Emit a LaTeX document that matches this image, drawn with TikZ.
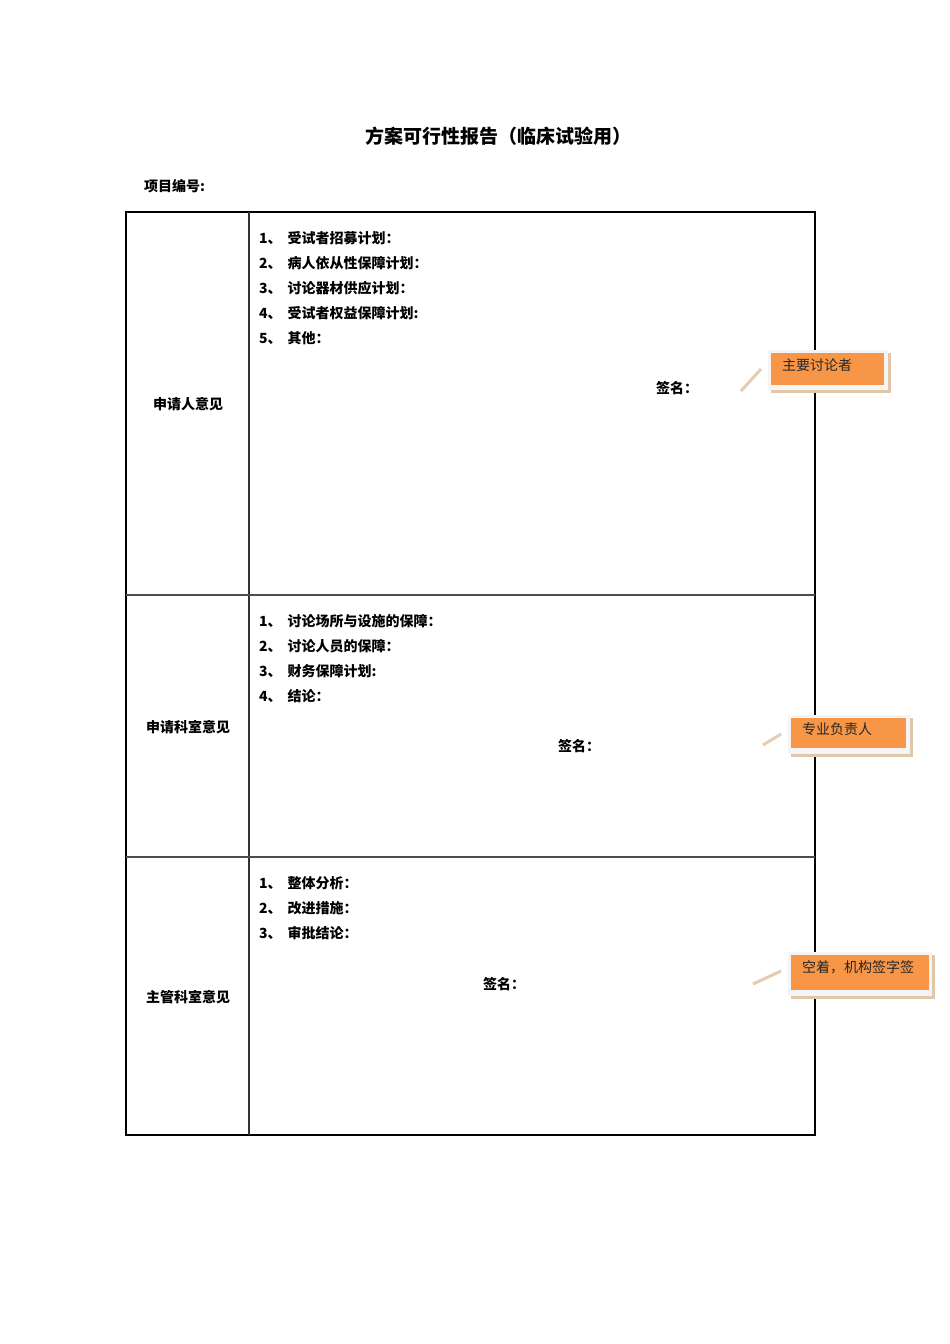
\documentclass[tikz,border=0pt]{standalone}
\usepackage{fontspec}
\setmainfont{Noto Sans CJK SC}
\newfontfamily\cjk{Noto Sans CJK SC}
\tikzset{
 lbl/.style={anchor=west,font=\fontsize{14}{16}\selectfont\bfseries,inner sep=0pt},
 ctr/.style={font=\fontsize{14}{16}\selectfont\bfseries,inner sep=0pt},
 cout/.style={draw=white!90!black,fill=white!96!black,line width=0.8pt},
 cin/.style={fill=orange!70!red!60!yellow,draw=none},
 shad/.style={fill=brown!45!white,draw=none},
 ptr/.style={line width=3pt,draw=brown!40!white,line cap=butt},
 ctxt/.style={anchor=north west,font=\fontsize{14}{16}\selectfont,inner sep=0pt,text=black!85},
 tline/.style={line width=2pt,black}
}
\definecolor{orng}{HTML}{F79646}
\begin{document}
\begin{tikzpicture}[x=1pt,y=-1pt]
\useasboundingbox[fill=white] (0,0) rectangle (950,1344);
\node[font=\fontsize{19}{22}\selectfont\bfseries] (title) at (498,136) {方案可行性报告（临床试验用）};
\node[lbl] (num) at (144,186) {项目编号:};
% table
\draw[tline] (126,212) rectangle (815,1135);
\draw[line width=1.2pt,black!80] (249,212) -- (249,1135);
\draw[line width=1.2pt,black!70] (126,595) -- (815,595);
\draw[line width=1.2pt,black!70] (126,857) -- (815,857);
\node[ctr] (r1) at (188,404) {申请人意见};
\node[ctr] (r2) at (188,727) {申请科室意见};
\node[ctr] (r3) at (188,997) {主管科室意见};
\foreach \t [count=\i] in {受试者招募计划：,病人依从性保障计划：,讨论器材供应计划：,受试者权益保障计划:,其他：}
  \node[lbl] (a\i) at (259,213+25*\i) {\i、\hspace{6pt}\t};
\foreach \t [count=\i] in {讨论场所与设施的保障：,讨论人员的保障：,财务保障计划:,结论：}
  \node[lbl] (b\i) at (259,596+25*\i) {\i、\hspace{6pt}\t};
\foreach \t [count=\i] in {整体分析：,改进措施：,审批结论：}
  \node[lbl] (c\i) at (259,858+25*\i) {\i、\hspace{6pt}\t};
\node[lbl] (s1) at (656,388) {签名：};
\node[lbl] (s2) at (558,746) {签名：};
\node[lbl] (s3) at (483,984) {签名：};
% callouts
\fill[shad] (771,353) rectangle (891,393);
\fill[cout,draw=none] (768,350) rectangle (888,390);
\fill[orng] (771,353) rectangle (884,385);
\node[ctxt] (k1) at (782,359) {主要讨论者};
\draw[ptr] (741,391) -- (761,369);
\fill[shad] (791,718) rectangle (913,757);
\fill[cout,draw=none] (788,715) rectangle (910,754);
\fill[orng] (791,718) rectangle (906,748);
\node[ctxt] (k2) at (802,723) {专业负责人};
\draw[ptr] (763,745) -- (781,734);
\fill[shad] (791,955) rectangle (935,999);
\fill[cout,draw=none] (788,952) rectangle (932,996);
\fill[orng] (791,955) rectangle (929,990);
\node[ctxt,text width=125pt,font=\fontsize{14}{13}\selectfont] (k3) at (802,960) {空着，机构签字签};
\draw[ptr] (753,984) -- (781,971);
\end{tikzpicture}
\end{document}
